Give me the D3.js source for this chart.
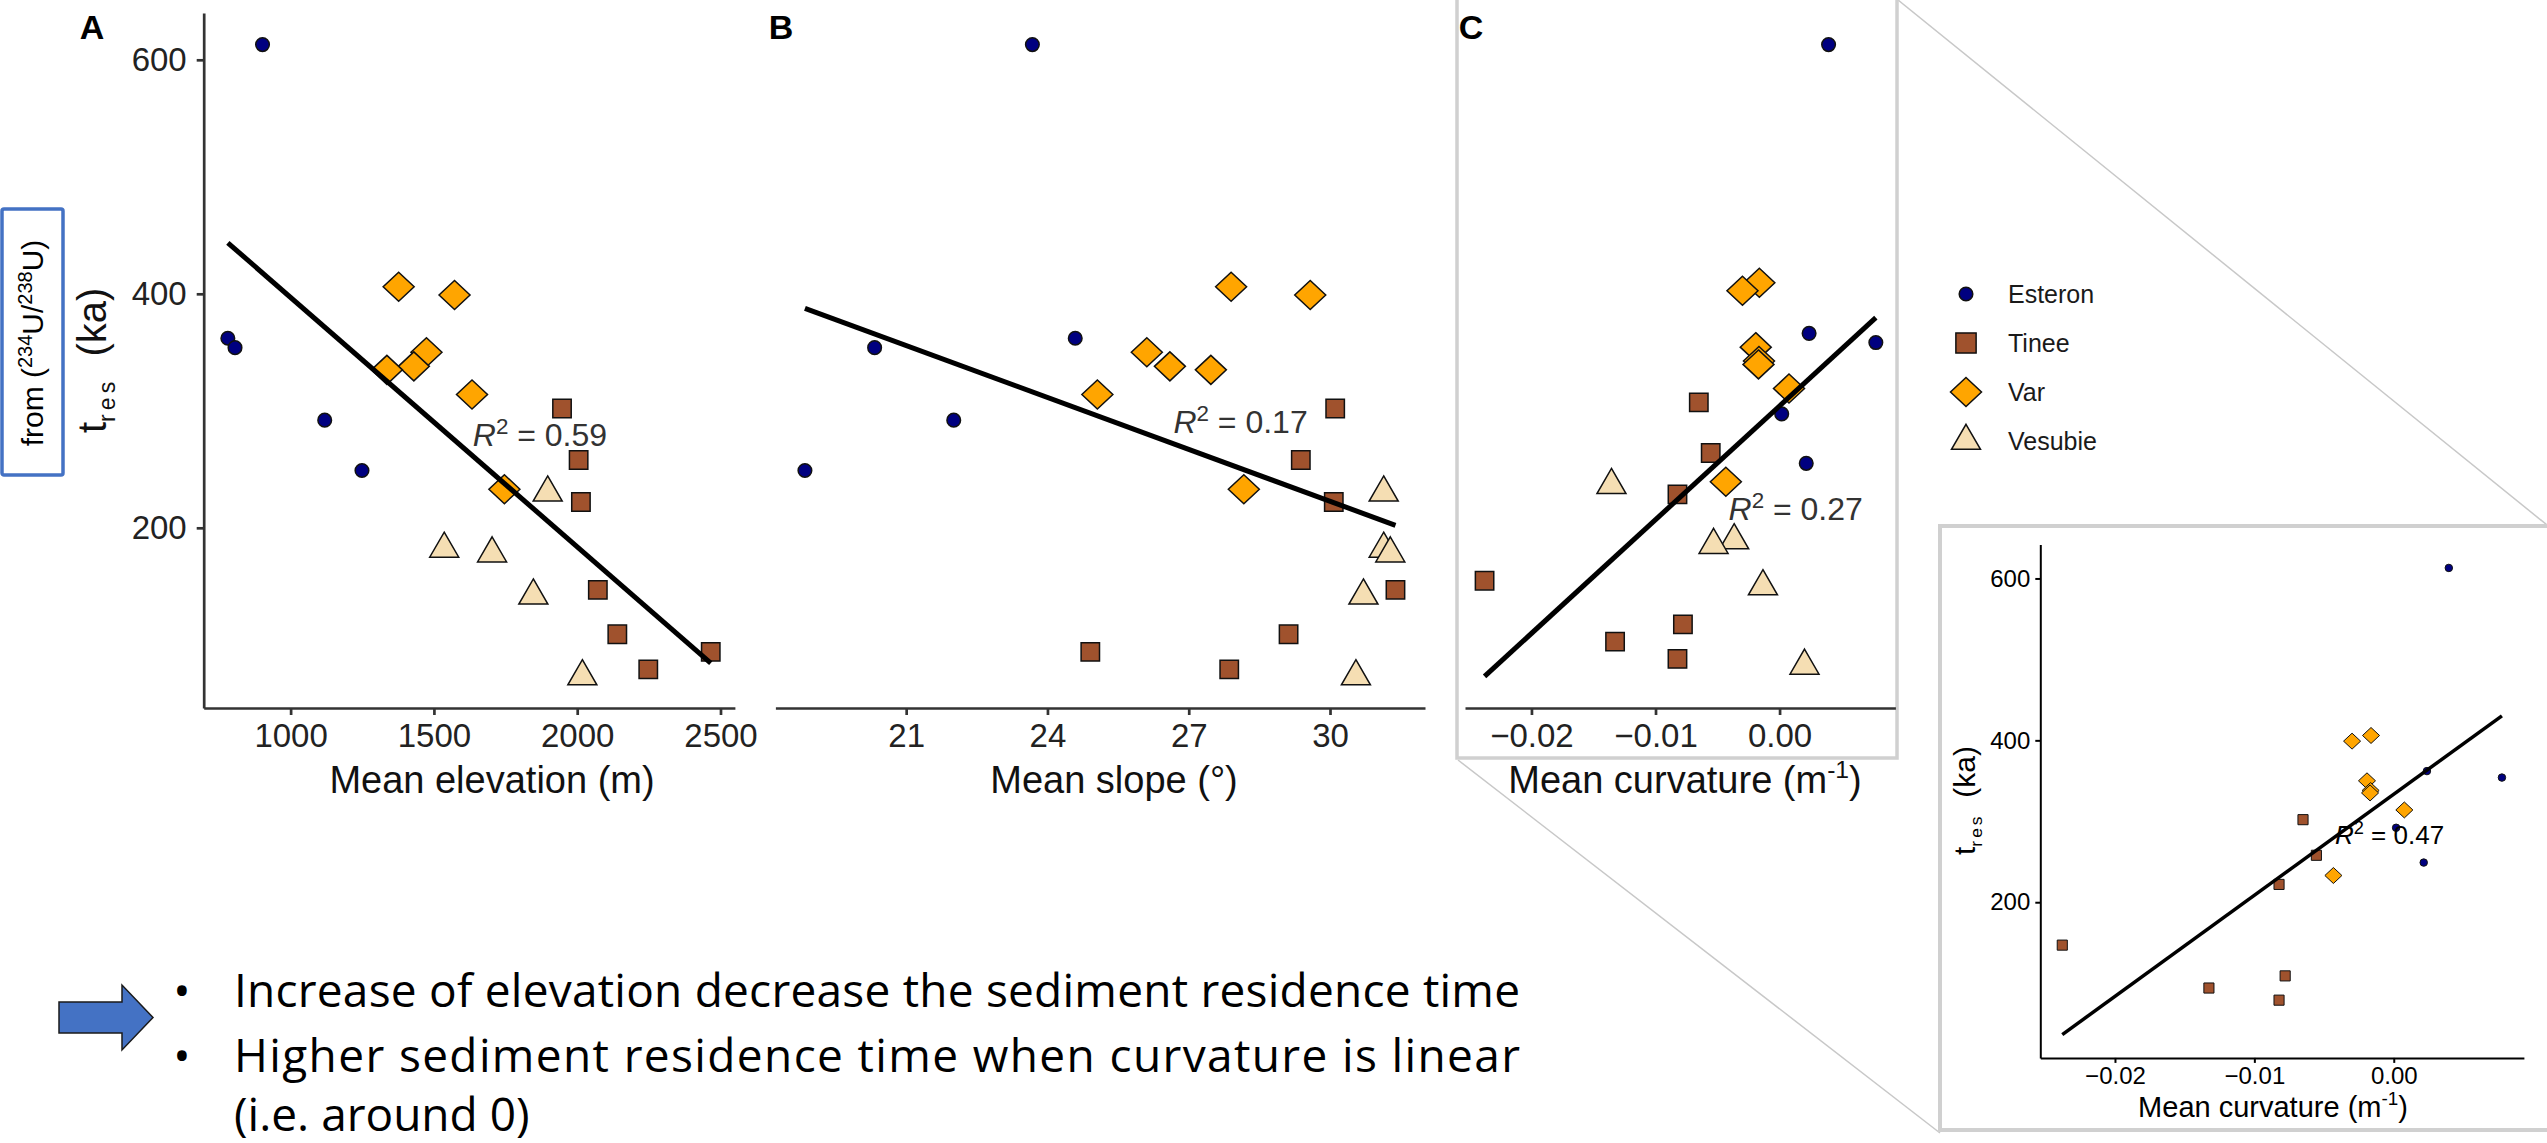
<!DOCTYPE html>
<html>
<head>
<meta charset="utf-8">
<script src="https://cdn.jsdelivr.net/npm/d3@7"></script>
<style>
  body { margin: 0; background: #fff; }
  svg { display: block; }
</style>
</head>
<body>
<div class="chart"></div>
<script>
const width = 2547, height = 1143
const ggFont = "'Liberation Sans', Arial, sans-serif"
const slideFont = "'Open Sans', 'Noto Sans', sans-serif"

// ---- data ----
const rivers = ['Esteron', 'Tinee', 'Var', 'Vesubie']
const sampleRiver = [
    'Esteron', 'Esteron', 'Esteron', 'Esteron', 'Esteron',
    'Tinee', 'Tinee', 'Tinee', 'Tinee', 'Tinee', 'Tinee', 'Tinee',
    'Var', 'Var', 'Var', 'Var', 'Var', 'Var', 'Var',
    'Vesubie', 'Vesubie', 'Vesubie', 'Vesubie', 'Vesubie'
]
const elevation = [902, 781, 806, 1119, 1249,
    1947, 2005, 2013, 2072, 2140, 2248, 2466,
    1377, 1572, 1474, 1430, 1336, 1633, 1746,
    1897, 1536, 1703, 1847, 2018]
const slope = [23.68, 24.59, 20.33, 22.01, 18.85,
    30.11, 29.38, 30.08, 31.39, 29.12, 27.86, 24.91,
    27.90, 29.58, 26.11, 26.60, 27.47, 25.06, 28.17,
    31.14, 31.14, 31.28, 30.71, 30.55]
const curvature = [0.00395, 0.00238, 0.00776, 0.00017, 0.00215,
    -0.00651, -0.00555, -0.00823, -0.02378, -0.00779, -0.00823, -0.01326,
    -0.00163, -0.00299, -0.00192, -0.00166, -0.00170, 0.00076, -0.00433,
    -0.01355, -0.00366, -0.00532, -0.00134, 0.00201]
const tres = [613, 362, 354, 292, 249,
    302, 258, 222, 147, 109, 79, 94,
    406, 399, 350, 338, 335, 314, 233,
    230, 182, 178, 142, 73]

const r2Values = ['0.59', '0.17', '0.27', '0.47']
const elevTicks = [1000, 1500, 2000, 2500]
const slopeTicks = [21, 24, 27, 30]
const curvTicks = [-0.02, -0.01, 0]
const tresTicks = [200, 400, 600]
const bulletLines = [
    'Increase of elevation decrease the sediment residence time',
    'Higher sediment residence time when curvature is linear',
    '(i.e. around 0)'
]

const samples = tres.map((t, i) => ({
    river: sampleRiver[i],
    elevation: elevation[i],
    slope: slope[i],
    curvature: curvature[i],
    tres: t
}))

const shapeOf = d3.scaleOrdinal().domain(rivers).range(['circle', 'square', 'diamond', 'triangle'])
const fillOf = d3.scaleOrdinal().domain(rivers).range(['#000080', '#A0522D', '#FFA500', '#F5DEB3'])

// marker outline, k scales the whole glyph
function markerPath(shape, k) {
    if (shape === 'circle') {
        return d3.symbol(d3.symbolCircle, Math.PI * Math.pow(6.8 * k, 2))()
    }
    if (shape === 'square') {
        const h = 9.2 * k
        return `M${-h},${-h}H${h}V${h}H${-h}Z`
    }
    if (shape === 'diamond') {
        const w = 15.5 * k, h = 14.5 * k
        return `M0,${-h}L${w},0L0,${h}L${-w},0Z`
    }
    const a = 29 * k, H = a * Math.sqrt(3) / 2
    return `M0,${-2 * H / 3}L${a / 2},${H / 3}L${-a / 2},${H / 3}Z`
}

// least squares line, like geom_smooth(method = 'lm')
function lm(xs, ys) {
    const mx = d3.mean(xs), my = d3.mean(ys)
    let sxy = 0, sxx = 0
    xs.forEach((x, i) => { sxy += (x - mx) * (ys[i] - my); sxx += (x - mx) * (x - mx) })
    const b = sxy / sxx
    return { a: my - b * mx, b: b }
}

// ggplot default 5% expansion
function ggExpand(vals) {
    const [lo, hi] = d3.extent(vals)
    const pad = (hi - lo) * 0.05
    return [lo - pad, hi + pad]
}

const svg = d3.select('.chart').append('svg')
    .attr('width', width)
    .attr('height', height)

svg.append('rect').attr('width', width).attr('height', height).attr('fill', '#fff')

// zoom connectors, frame round C and the inset box
const deco = svg.append('g').attr('class', 'deco')
deco.append('line')
    .attr('x1', 1898).attr('y1', 0).attr('x2', 2547).attr('y2', 525)
    .attr('stroke', '#c8c8c8').attr('stroke-width', 1.5)
deco.append('line')
    .attr('x1', 1458).attr('y1', 760).attr('x2', 1940).attr('y2', 1133)
    .attr('stroke', '#c8c8c8').attr('stroke-width', 1.5)
deco.append('rect')
    .attr('x', 1457).attr('y', -3).attr('width', 440).attr('height', 761)
    .attr('fill', 'none').attr('stroke', '#d0d0d0').attr('stroke-width', 3.5)
deco.append('rect')
    .attr('x', 1940).attr('y', 526).attr('width', 620).attr('height', 604)
    .attr('fill', '#fff').attr('stroke', '#d0d0d0').attr('stroke-width', 4)

function styleAxis(g, o) {
    g.attr('font-family', ggFont).attr('font-size', o.fs)
    g.select('.domain').attr('stroke', o.color).attr('stroke-width', o.lw)
    g.selectAll('.tick line').attr('stroke', o.color).attr('stroke-width', o.lw)
    g.selectAll('.tick text').attr('fill', o.text)
}

function drawPanel(cfg) {
    const g = svg.append('g').attr('class', 'panel-' + cfg.name)
    const pts = cfg.data
    const xs = pts.map(d => d[cfg.key]), ys = pts.map(d => d.tres)
    const fit = lm(xs, ys)
    const [xMin, xMax] = d3.extent(xs)
    const lineEnds = [xMin, xMax].map(v => ({ x: v, y: fit.a + fit.b * v }))

    const x = d3.scaleLinear().domain(ggExpand(xs)).range(cfg.xRange)
    const y = d3.scaleLinear().domain(ggExpand(ys.concat(lineEnds.map(d => d.y)))).range(cfg.yRange)

    const xAxis = g.append('g')
        .attr('transform', `translate(0,${cfg.yRange[0]})`)
        .call(d3.axisBottom(x).tickValues(cfg.xTicks).tickFormat(cfg.xFormat)
            .tickSize(cfg.tick).tickSizeOuter(0).tickPadding(cfg.pad))
    styleAxis(xAxis, cfg.axisStyle)

    if (cfg.yAxis) {
        const yAxis = g.append('g')
            .attr('transform', `translate(${cfg.xRange[0]},0)`)
            .call(d3.axisLeft(y).tickValues(tresTicks).tickFormat(d3.format('d'))
                .tickSize(cfg.tick).tickSizeOuter(0).tickPadding(cfg.pad + 1))
        styleAxis(yAxis, cfg.axisStyle)
    }

    g.append('g').attr('class', 'points')
        .selectAll('path')
        .data(pts)
        .enter().append('path')
        .attr('d', d => markerPath(shapeOf(d.river), cfg.k))
        .attr('transform', d => `translate(${x(d[cfg.key])},${y(d.tres)})`)
        .attr('fill', d => fillOf(d.river))
        .attr('stroke', '#111')
        .attr('stroke-width', cfg.k < 1 ? 1 : 1.5)

    g.append('path')
        .datum(lineEnds)
        .attr('d', d3.line().x(d => x(d.x)).y(d => y(d.y)))
        .attr('stroke', '#000')
        .attr('stroke-width', cfg.lineW)
        .attr('fill', 'none')

    // R squared annotation
    const lab = g.append('text')
        .attr('x', x(cfg.label.x))
        .attr('y', y(cfg.label.y))
        .attr('text-anchor', 'middle')
        .attr('font-family', ggFont)
        .attr('font-size', cfg.labelFs)
        .attr('fill', cfg.labelColor)
    lab.append('tspan').attr('font-style', 'italic').text('R')
    lab.append('tspan').attr('dy', -cfg.labelFs * 0.38).attr('font-size', cfg.labelFs * 0.7).text('2')
    lab.append('tspan').attr('dy', cfg.labelFs * 0.38).text(' = ' + cfg.label.text)

    if (cfg.letter) {
        g.append('text')
            .attr('x', cfg.letter.x).attr('y', 39)
            .attr('text-anchor', 'middle')
            .attr('font-family', ggFont)
            .attr('font-weight', 'bold')
            .attr('font-size', 34)
            .text(cfg.letter.text)
    }
    return g
}

const mainStyle = { fs: 33, color: '#333', text: '#222', lw: 2.7 }
const insetStyle = { fs: 24, color: '#000', text: '#000', lw: 2 }
const curvFormat = d3.format('.2f')

drawPanel({
    name: 'A', key: 'elevation', data: samples,
    xRange: [203.7, 734.9], yRange: [708, 13],
    xTicks: elevTicks, xFormat: d3.format('d'), yAxis: true,
    tick: 7, pad: 9, axisStyle: mainStyle, k: 1, lineW: 5,
    label: { x: 1870, y: 270, text: r2Values[0] }, labelFs: 32, labelColor: '#333',
    letter: { x: 92, text: 'A' }
})
drawPanel({
    name: 'B', key: 'slope', data: samples,
    xRange: [775.4, 1425], yRange: [708, 13],
    xTicks: slopeTicks, xFormat: d3.format('d'), yAxis: false,
    tick: 7, pad: 9, axisStyle: mainStyle, k: 1, lineW: 5,
    label: { x: 28.1, y: 281, text: r2Values[1] }, labelFs: 32, labelColor: '#333',
    letter: { x: 781, text: 'B' }
})
drawPanel({
    name: 'C', key: 'curvature', data: samples,
    xRange: [1465, 1895.4], yRange: [708, 13],
    xTicks: curvTicks, xFormat: curvFormat, yAxis: false,
    tick: 7, pad: 9, axisStyle: mainStyle, k: 1, lineW: 5,
    label: { x: 0.0013, y: 200, text: r2Values[2] }, labelFs: 32, labelColor: '#333',
    letter: { x: 1471, text: 'C' }
})
drawPanel({
    name: 'inset', key: 'curvature', data: samples.filter(d => d.river !== 'Vesubie'),
    xRange: [2040.3, 2523.9], yRange: [1057.9, 544.6],
    xTicks: curvTicks, xFormat: curvFormat, yAxis: true,
    tick: 5, pad: 4, axisStyle: insetStyle, k: 0.55, lineW: 3.5,
    label: { x: -0.0003, y: 272, text: r2Values[3] }, labelFs: 26, labelColor: '#000'
})

// axis titles
function xTitle(x, y, fs, parts, color) {
    const t = svg.append('text')
        .attr('x', x).attr('y', y)
        .attr('text-anchor', 'middle')
        .attr('font-family', ggFont)
        .attr('font-size', fs)
        .attr('fill', color)
    t.append('tspan').text(parts[0])
    if (parts.length > 1) {
        t.append('tspan').attr('dy', -fs * 0.4).attr('font-size', fs * 0.65).text(parts[1])
        t.append('tspan').attr('dy', fs * 0.4).text(parts[2])
    }
}
xTitle(492, 793, 38, ['Mean elevation (m)'], '#111')
xTitle(1114, 793, 38, ['Mean slope (°)'], '#111')
xTitle(1685, 793, 38, ['Mean curvature (m', '-1', ')'], '#111')
xTitle(2273, 1117, 29, ['Mean curvature (m', '-1', ')'], '#000')

// rotated t_res (ka), drawn from its bottom end upwards
function yTitle(x, yBottom, fs, color) {
    const t = svg.append('text')
        .attr('transform', `translate(${x},${yBottom}) rotate(-90)`)
        .attr('font-family', ggFont)
        .attr('font-size', fs)
        .attr('fill', color)
    t.append('tspan').text('t')
    t.append('tspan').attr('dy', fs * 0.22).attr('font-size', fs * 0.58).attr('letter-spacing', fs * 0.1).text('res')
    t.append('tspan').attr('dy', -fs * 0.22).attr('dx', fs * 0.25).text(' (ka)')
}
yTitle(106, 433, 40, '#111')
yTitle(1975, 855, 30, '#000')

// legend
const legend = svg.append('g').attr('class', 'legend')
    .selectAll('g')
    .data(rivers)
    .enter().append('g')
    .attr('transform', (d, i) => `translate(1966,${294 + i * 49})`)
legend.append('path')
    .attr('d', d => markerPath(shapeOf(d), d === 'Tinee' ? 1.1 : 1))
    .attr('fill', d => fillOf(d))
    .attr('stroke', '#111')
    .attr('stroke-width', 1.5)
legend.append('text')
    .attr('x', 42).attr('dy', '0.35em')
    .attr('font-family', ggFont)
    .attr('font-size', 25)
    .attr('fill', '#1a1a1a')
    .text(d => d)

// note box on the y axis
svg.append('rect')
    .attr('x', 2).attr('y', 209).attr('width', 61).attr('height', 266).attr('rx', 2)
    .attr('fill', 'none').attr('stroke', '#4472C4').attr('stroke-width', 3.5)
const note = svg.append('text')
    .attr('transform', 'translate(43,343) rotate(-90)')
    .attr('text-anchor', 'middle')
    .attr('font-family', ggFont)
    .attr('font-size', 30)
    .attr('fill', '#000')
note.append('tspan').text('from (')
note.append('tspan').attr('dy', -11).attr('font-size', 20).text('234')
note.append('tspan').attr('dy', 11).text('U/')
note.append('tspan').attr('dy', -11).attr('font-size', 20).text('238')
note.append('tspan').attr('dy', 11).text('U)')

// conclusions
svg.append('path')
    .attr('d', 'M59,1002H122V985L153,1017.5L122,1050V1033H59Z')
    .attr('fill', '#4472C4')
    .attr('stroke', '#1a1a1a')
    .attr('stroke-width', 1.5)

const textBlock = svg.append('g').attr('class', 'bullets')
    .attr('font-family', slideFont)
    .attr('font-size', 46)
    .attr('fill', '#000')
const baselines = [1007, 1072, 1131]
textBlock.selectAll('text.line')
    .data(bulletLines)
    .enter().append('text')
    .attr('class', 'line')
    .attr('x', 234)
    .attr('y', (d, i) => baselines[i])
    .attr('textLength', (d, i) => i < 2 ? 1286 : null)
    .attr('lengthAdjust', 'spacing')
    .text(d => d)
textBlock.selectAll('text.dot')
    .data([0, 1])
    .enter().append('text')
    .attr('class', 'dot')
    .attr('x', 182)
    .attr('y', i => baselines[i])
    .attr('text-anchor', 'middle')
    .text('•')
</script>
</body>
</html>
